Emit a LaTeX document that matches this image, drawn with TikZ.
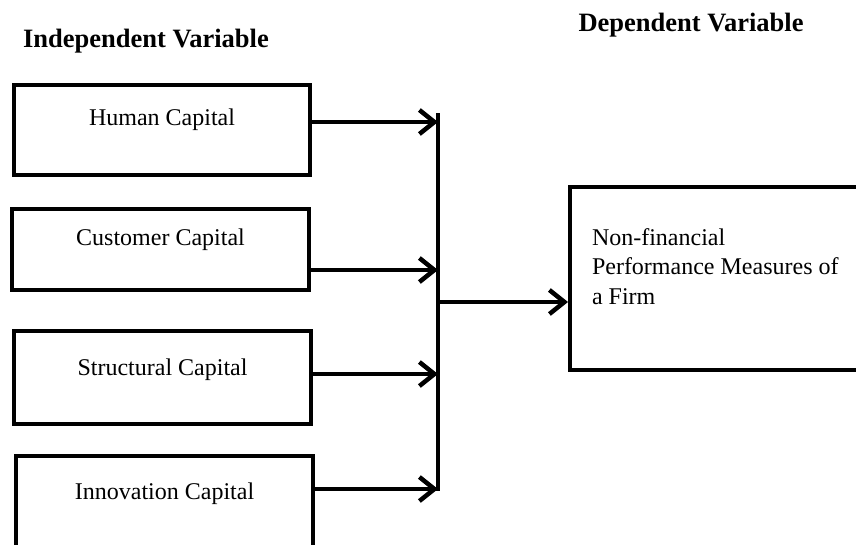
\documentclass[tikz,border=0pt]{standalone}
\usepackage{fontspec}
\setmainfont{Liberation Serif}
\usepackage{tikz}
\usetikzlibrary{arrows.meta}
\tikzstyle{ivblock} = [rectangle, draw, line width=4pt, inner sep=0pt, anchor=north west, align=center, font=\fontsize{24}{29}\selectfont]
\tikzstyle{dvblock} = [rectangle, draw, line width=4pt, anchor=north west, inner xsep=22pt, inner ysep=0pt, align=flush left, font=\fontsize{24}{29.5}\selectfont]
\tikzstyle{heading} = [font=\bfseries\fontsize{26.5}{32}\selectfont, anchor=base]
\tikzstyle{arrow} = [line width=4.5pt, -{Straight Barb[length=15pt,width=24pt]}]
\tikzstyle{bus} = [line width=4.5pt]

\begin{document}
\begin{tikzpicture}[x=1pt, y=-1pt]
  \clip (0,0) rectangle (856,544);
  \node[heading] (indep) at (146,47) {Independent Variable};
  \node[heading] (dep) at (691,31) {Dependent Variable};

  % independent variables
  \node[ivblock, minimum width=296pt, text height=40pt, text depth=50pt] (human) at (12,83) {Human Capital};
  \node[ivblock, minimum width=297pt, text height=36pt, text depth=45pt] (customer) at (10,207) {Customer Capital};
  \node[ivblock, minimum width=297pt, text height=44pt, text depth=49pt] (structural) at (12,329) {Structural Capital};
  \node[ivblock, minimum width=297pt, text height=43pt, text depth=70pt] (innovation) at (14,454) {Innovation Capital};

  % dependent variable
  \node[dvblock, minimum width=300pt, text width=256pt, text height=58pt, text depth=125pt] (firm) at (568,185) {Non-financial\\Performance Measures of\\a Firm};

  % collecting line
  \coordinate (bustop) at (438,113);
  \coordinate (busbot) at (438,491);
  \coordinate (inhuman) at (438,122);
  \coordinate (incustomer) at (438,270);
  \coordinate (instructural) at (438,374);
  \coordinate (ininnovation) at (438,489);
  \coordinate (busout) at (438,302);
  \draw[bus] (bustop) -- (busbot);

  \draw[arrow] (human.east |- inhuman) -- (inhuman);
  \draw[arrow] (customer.east |- incustomer) -- (incustomer);
  \draw[arrow] (structural.east |- instructural) -- (instructural);
  \draw[arrow] (innovation.east |- ininnovation) -- (ininnovation);
  \draw[arrow] (busout) -- (firm.west |- busout);
\end{tikzpicture}
\end{document}
